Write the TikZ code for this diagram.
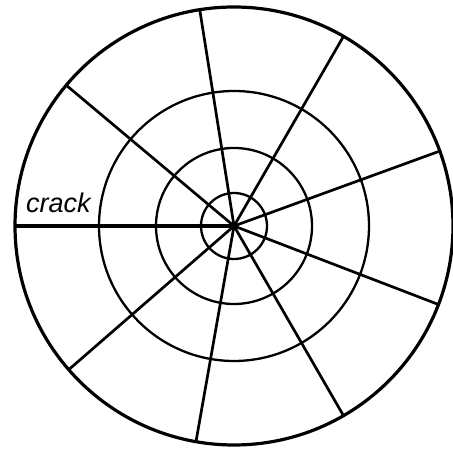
\documentclass[tikz,border=0pt]{standalone}
\usepackage{fontspec}
\newfontfamily\labelfont{Liberation Sans}
\begin{document}
\begin{tikzpicture}[x=1pt,y=1pt]
\useasboundingbox (0,0) rectangle (453,449);
\coordinate (O) at (234,223);

\draw[line width=3.2pt] (O) circle (219);
\draw[line width=2.3pt] (O) circle (135);
\draw[line width=2.3pt] (O) circle (78);
\draw[line width=2.3pt] (O) circle (33);

\draw[line width=4.2pt] (O) -- ++(180:219);
\draw[line width=2.7pt] (O) -- ++(140:219);
\draw[line width=2.7pt] (O) -- ++(99:219);
\draw[line width=2.7pt] (O) -- ++(60:219);
\draw[line width=2.7pt] (O) -- ++(20:219);
\draw[line width=2.7pt] (O) -- ++(-21:219);
\draw[line width=2.7pt] (O) -- ++(-60:219);
\draw[line width=2.7pt] (O) -- ++(-100:219);
\draw[line width=2.7pt] (O) -- ++(-139:219);

\node[anchor=base west,inner sep=0pt,font=\labelfont\itshape\fontsize{27}{27}\selectfont] (crack) at (26,236) {crack};
\end{tikzpicture}
\end{document}
